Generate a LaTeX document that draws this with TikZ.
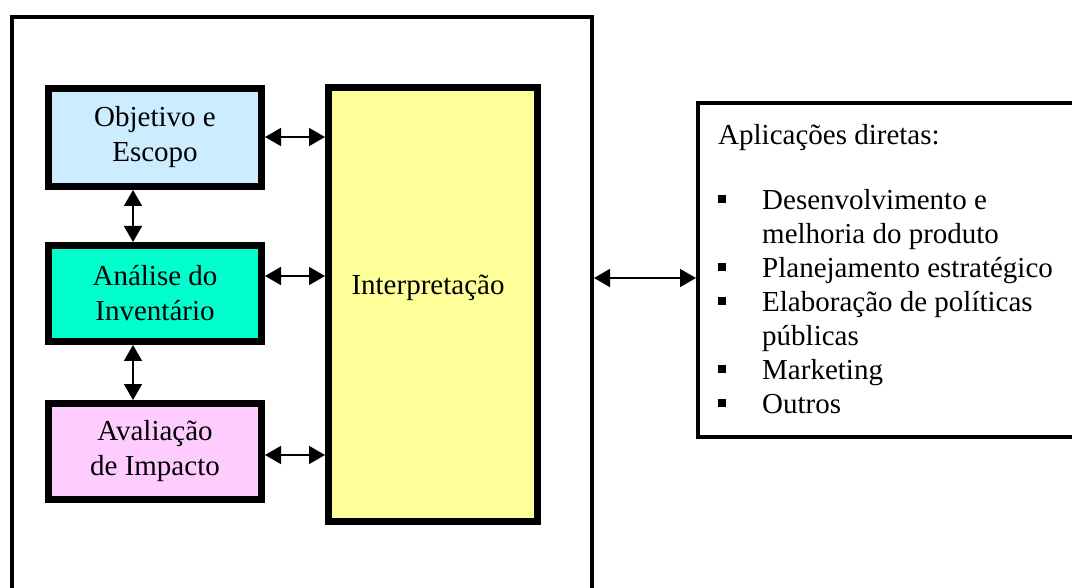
\documentclass[tikz,border=0pt]{standalone}
\usepackage{fontspec}
\setmainfont{Liberation Serif}
\usetikzlibrary{arrows.meta}
\definecolor{objblue}{HTML}{CCECFF}
\definecolor{anateal}{HTML}{00FFCC}
\definecolor{avapink}{HTML}{FFCCFF}
\definecolor{intyellow}{HTML}{FFFF99}
\tikzset{
  stagebox/.style={draw=black, line width=7pt, minimum width=213pt, minimum height=98pt,
    align=center, inner sep=0pt, font=\fontsize{29}{35}\selectfont},
  thinbox/.style={draw=black, line width=4pt, inner sep=0pt},
  dblarrow/.style={line width=1.6pt, {Triangle[length=16pt,width=18pt]}-{Triangle[length=16pt,width=18pt]}},
  txt/.style={inner sep=0pt, font=\fontsize{29}{34}\selectfont}
}
\begin{document}
\begin{tikzpicture}[x=1pt,y=-1pt]
\useasboundingbox (0,0) rectangle (1072,588);
\fill[white] (0,0) rectangle (1072,588);
% outer frame
\node[thinbox, minimum width=580pt, minimum height=600pt, anchor=north west] (outer) at (10,15) {};
% stage boxes
\node[stagebox, fill=objblue] (obj) at (155,137.5) {Objetivo e\\Escopo};
\node[stagebox, fill=anateal, minimum height=96pt] (ana) at (155,293.5) {Análise do\\Inventário};
\node[stagebox, fill=avapink, minimum height=96pt] (ava) at (155,451.5) {Avaliação\\de Impacto};
\node[stagebox, fill=intyellow, minimum width=209pt, minimum height=434pt] (int) at (433,304.5) {};
\node[txt] (intlabel) at (428,288) {Interpretação};
% applications box
\node[thinbox, minimum width=390pt, minimum height=334pt, anchor=north west] (apps) at (696,101) {};
\node[txt, anchor=north west, align=left] (appstext) at (718,124) {%
Aplicações diretas:\\[31pt]
\makebox[44pt][l]{\raisebox{6pt}{\rule{8pt}{8pt}}}Desenvolvimento e\\
\hspace*{44pt}melhoria do produto\\
\makebox[44pt][l]{\raisebox{6pt}{\rule{8pt}{8pt}}}Planejamento estratégico\\
\makebox[44pt][l]{\raisebox{6pt}{\rule{8pt}{8pt}}}Elaboração de políticas\\
\hspace*{44pt}públicas\\
\makebox[44pt][l]{\raisebox{6pt}{\rule{8pt}{8pt}}}Marketing\\
\makebox[44pt][l]{\raisebox{6pt}{\rule{8pt}{8pt}}}Outros};
% helper coordinates
\coordinate (vx) at (133,0);
\coordinate (y1) at (0,137);
\coordinate (y2) at (0,276);
\coordinate (y3) at (0,455);
\coordinate (y4) at (0,278);
% connectors
\draw[dblarrow] (obj.east |- y1) -- (int.west |- y1);
\draw[dblarrow] (ana.east |- y2) -- (int.west |- y2);
\draw[dblarrow] (ava.east |- y3) -- (int.west |- y3);
\draw[dblarrow] (obj.south -| vx) -- (ana.north -| vx);
\draw[dblarrow] (ana.south -| vx) -- (ava.north -| vx);
\draw[dblarrow] (outer.east |- y4) -- (apps.west |- y4);
\end{tikzpicture}
\end{document}
